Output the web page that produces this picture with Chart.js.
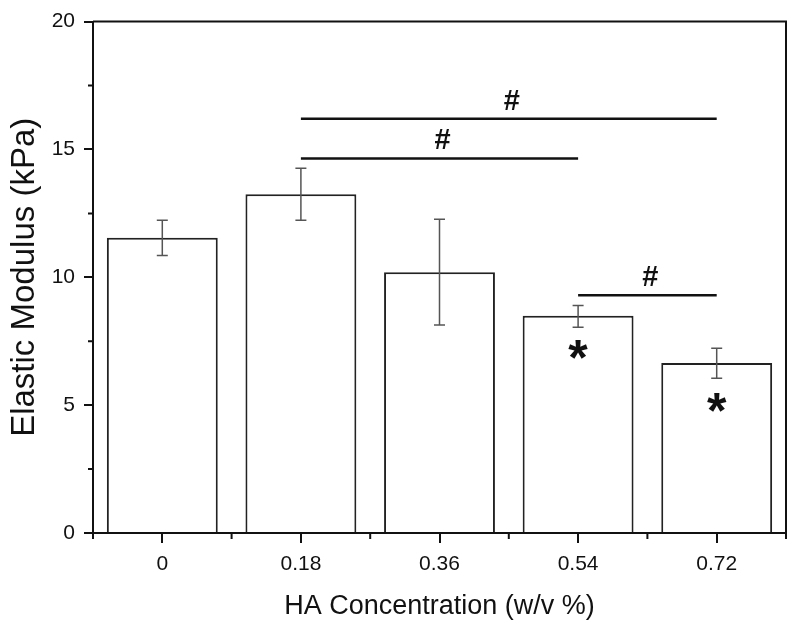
<!DOCTYPE html>
<html>
<head>
<meta charset="utf-8">
<script src="https://cdn.jsdelivr.net/npm/chart.js@4.4.1/dist/chart.umd.min.js"></script>
<style>
  html, body { margin: 0; padding: 0; background: #fff; }
  #wrap { width: 800px; height: 631px; }
</style>
</head>
<body>
<div id="wrap"><canvas id="modulusChart" width="800" height="631"></canvas></div>
<script>
// Datos
const categories = ['0', '0.18', '0.36', '0.54', '0.72'];
const modulus = [11.55, 13.25, 10.2, 8.5, 6.65];
const errLow = [10.85, 12.23, 8.13, 8.05, 6.05];
const errHigh = [12.23, 14.26, 12.27, 8.9, 7.23];
const yTicks = [0, 5, 10, 15, 20];

// Barras de significancia (#) y asteriscos
const sigFrom = [1, 1, 3];
const sigTo = [4, 3, 4];
const sigLevel = [16.2, 14.65, 9.3];
const sigLabel = ['#', '#', '#'];
const starIndex = [3, 4];
const starLevel = [7.15, 5.1];

const FONT = '"Liberation Sans", Arial, sans-serif';

// Marco superior/derecho y ticks menores
const framePlugin = {
    id: 'frame',
    afterDraw(chart) {
        const { ctx, chartArea: a, scales: { x, y } } = chart;
        ctx.save();
        ctx.strokeStyle = '#111';
        ctx.lineWidth = 2;
        ctx.beginPath();
        ctx.moveTo(a.left, a.top);
        ctx.lineTo(a.right, a.top);
        ctx.lineTo(a.right, a.bottom);
        ctx.stroke();

        // ticks menores eje y
        ctx.beginPath();
        for (let i = 0; i < yTicks.length - 1; i++) {
            const py = y.getPixelForValue((yTicks[i] + yTicks[i + 1]) / 2);
            ctx.moveTo(a.left, py);
            ctx.lineTo(a.left - 5, py);
        }
        // ticks menores eje x (entre categorías)
        for (let i = 0; i <= categories.length; i++) {
            const px = x.getPixelForValue(i - 0.5);
            ctx.moveTo(px, a.bottom);
            ctx.lineTo(px, a.bottom + 6);
        }
        ctx.stroke();
        ctx.restore();
    }
};

// Barras de error
const errorBarPlugin = {
    id: 'errorBars',
    afterDatasetsDraw(chart) {
        const { ctx, scales: { y } } = chart;
        const meta = chart.getDatasetMeta(0);
        ctx.save();
        ctx.strokeStyle = '#555';
        ctx.lineWidth = 1.5;
        meta.data.forEach((bar, i) => {
            const yt = y.getPixelForValue(errHigh[i]);
            const yb = y.getPixelForValue(errLow[i]);
            ctx.beginPath();
            ctx.moveTo(bar.x, yt);
            ctx.lineTo(bar.x, yb);
            ctx.moveTo(bar.x - 5.5, yt);
            ctx.lineTo(bar.x + 5.5, yt);
            ctx.moveTo(bar.x - 5.5, yb);
            ctx.lineTo(bar.x + 5.5, yb);
            ctx.stroke();
        });
        ctx.restore();
    }
};

// Anotaciones de significancia
const significancePlugin = {
    id: 'significance',
    afterDatasetsDraw(chart) {
        const { ctx, scales: { x, y } } = chart;
        ctx.save();
        ctx.strokeStyle = '#111';
        ctx.fillStyle = '#111';
        ctx.lineWidth = 2.5;
        ctx.textAlign = 'center';
        ctx.textBaseline = 'middle';
        ctx.font = 'bold 29px ' + FONT;
        for (let i = 0; i < sigFrom.length; i++) {
            const x1 = x.getPixelForValue(sigFrom[i]);
            const x2 = x.getPixelForValue(sigTo[i]);
            const py = y.getPixelForValue(sigLevel[i]);
            ctx.beginPath();
            ctx.moveTo(x1, py);
            ctx.lineTo(x2, py);
            ctx.stroke();
            ctx.fillText(sigLabel[i], (x1 + x2) / 2 + 3, py - 17);
        }
        ctx.font = 'bold 50px ' + FONT;
        ctx.textBaseline = 'alphabetic';
        starIndex.forEach((idx, k) => {
            const px = x.getPixelForValue(idx);
            const py = y.getPixelForValue(starLevel[k]);
            ctx.fillText('*', px, py + 0.5 * 50);
        });
        ctx.restore();
    }
};

const ctx = document.getElementById('modulusChart').getContext('2d');
const modulusChart = new Chart(ctx, {
    type: 'bar',
    data: {
        labels: categories,
        datasets: [{
            data: modulus,
            backgroundColor: '#fff',
            borderColor: '#222',
            borderWidth: 2,
            barPercentage: 0.8,
            categoryPercentage: 1.0
        }]
    },
    options: {
        responsive: false,
        animation: false,
        layout: { padding: { top: 21, right: 14, left: 0, bottom: 0 } },
        plugins: {
            legend: { display: false },
            tooltip: { enabled: false }
        },
        scales: {
            x: {
                offset: true,
                grid: {
                    offset: false,
                    drawOnChartArea: false,
                    drawTicks: true,
                    tickLength: 10,
                    color: '#111',
                    lineWidth: 2
                },
                border: { display: true, color: '#111', width: 2 },
                ticks: {
                    color: '#111',
                    padding: 9,
                    font: { family: FONT, size: 21 }
                },
                title: {
                    display: true,
                    text: 'HA Concentration (w/v %)',
                    color: '#111',
                    padding: { top: 0, bottom: 8 },
                    font: { family: FONT, size: 27 }
                },
                afterFit(scale) { scale.height = 98; }
            },
            y: {
                min: 0,
                max: 20,
                afterBuildTicks(scale) {
                    scale.ticks = yTicks.map(v => ({ value: v }));
                },
                grid: {
                    drawOnChartArea: false,
                    drawTicks: true,
                    tickLength: 9,
                    color: '#111',
                    lineWidth: 2
                },
                border: { display: true, color: '#111', width: 2 },
                ticks: {
                    color: '#111',
                    padding: 9,
                    font: { family: FONT, size: 21 }
                },
                title: {
                    display: true,
                    text: 'Elastic Modulus (kPa)',
                    color: '#111',
                    padding: { top: 5, bottom: 0 },
                    font: { family: FONT, size: 33 }
                },
                afterFit(scale) { scale.width = 93; }
            }
        }
    },
    plugins: [framePlugin, errorBarPlugin, significancePlugin]
});
</script>
</body>
</html>
